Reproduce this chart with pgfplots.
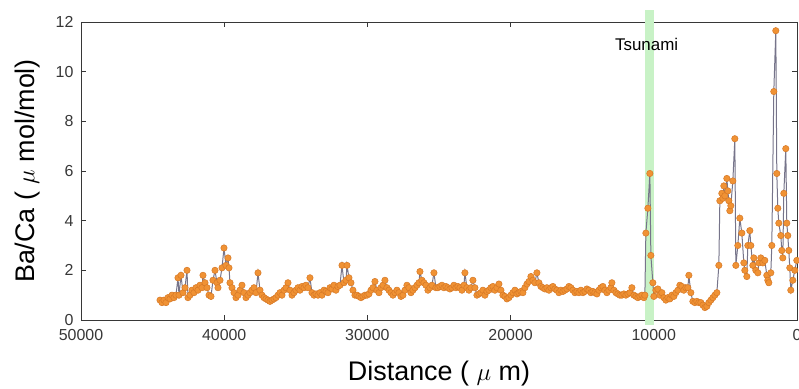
\documentclass[border=0pt]{standalone}
\usepackage{pgfplots}
\pgfplotsset{compat=1.18}
\usepackage{pgfplotstable}
\usepackage{fontspec}
\setmainfont{Liberation Sans}
\definecolor{markfill}{RGB}{240,146,52}
\definecolor{markedge}{RGB}{214,120,38}
\definecolor{linegray}{RGB}{118,116,138}
\definecolor{bandgreen}{RGB}{200,242,198}
\definecolor{axisgray}{RGB}{55,55,55}
\pgfplotstableread{
x y
44483 0.8
44344 0.7
44204 0.8
44064 0.7
43925 0.9
43785 0.85
43645 1.0
43506 0.9
43366 1.0
43226 1.7
43156 1.0
43017 1.8
42877 1.1
42737 1.3
42598 2.0
42528 0.9
42388 1.0
42249 1.2
42109 1.1
41969 1.3
41830 1.2
41690 1.4
41550 1.3
41481 1.8
41341 1.5
41201 1.3
41062 1.0
40922 0.95
40782 1.6
40643 2.0
40503 1.5
40433 1.3
40293 1.6
40154 2.1
40014 2.9
39874 2.2
39735 2.5
39665 2.1
39595 1.5
39455 1.3
39316 1.1
39176 0.9
39036 1.0
38897 1.2
38757 1.4
38617 1.1
38478 0.9
38338 1.0
38199 1.1
38059 1.2
37919 1.3
37780 1.1
37640 1.9
37500 1.2
37361 1.0
37221 0.9
37081 0.85
36942 0.8
36802 0.75
36662 0.8
36523 0.85
36383 0.9
36244 1.0
36104 1.1
35964 1.0
35825 1.2
35685 1.3
35545 1.5
35406 1.2
35266 1.0
35127 1.1
34987 1.2
34847 1.3
34708 1.2
34568 1.35
34428 1.3
34289 1.4
34149 1.3
34010 1.7
33870 1.1
33730 1.0
33591 1.05
33451 1.0
33311 1.1
33172 1.0
33032 1.2
32893 1.15
32753 1.1
32613 1.3
32474 1.25
32334 1.4
32194 1.2
32055 1.35
31915 1.4
31775 2.2
31636 1.5
31496 1.6
31426 2.2
31287 1.7
31147 1.5
31008 1.2
30868 1.0
30728 1.0
30589 0.95
30449 0.9
30309 0.95
30170 1.0
30030 1.0
29891 1.05
29751 1.2
29611 1.3
29472 1.55
29332 1.2
29192 1.1
29053 1.3
28913 1.4
28774 1.6
28634 1.3
28494 1.2
28355 1.1
28215 1.0
28075 1.1
27936 1.2
27796 1.1
27656 0.95
27517 1.0
27377 1.2
27238 1.4
27098 1.3
26958 1.1
26819 1.2
26679 1.3
26539 1.4
26400 1.5
26330 1.95
26191 1.6
26051 1.5
25911 1.4
25772 1.2
25632 1.3
25492 1.4
25353 1.9
25213 1.3
25074 1.3
24934 1.35
24794 1.4
24655 1.3
24515 1.35
24375 1.3
24236 1.25
24096 1.3
23957 1.4
23817 1.3
23677 1.35
23538 1.3
23398 1.2
23258 1.4
23189 1.9
23049 1.3
22909 1.2
22770 1.3
22630 1.6
22491 1.3
22351 1.0
22211 1.05
22072 1.1
21932 1.2
21792 1.0
21653 1.15
21513 1.2
21374 1.3
21234 1.35
21094 1.2
20955 1.3
20815 1.45
20675 1.2
20536 1.0
20396 0.95
20257 0.85
20117 0.9
19977 1.0
19838 1.1
19698 1.2
19558 1.05
19419 1.1
19279 1.15
19140 1.1
19000 1.3
18860 1.45
18721 1.55
18581 1.75
18441 1.6
18302 1.5
18162 1.9
18023 1.5
17883 1.35
17743 1.3
17604 1.25
17464 1.3
17324 1.2
17185 1.3
17045 1.35
16906 1.25
16766 1.2
16626 1.1
16487 1.2
16347 1.15
16207 1.2
16068 1.25
15928 1.35
15789 1.3
15649 1.2
15509 1.1
15370 1.15
15230 1.1
15090 1.2
14951 1.1
14811 1.15
14672 1.25
14532 1.2
14392 1.1
14253 1.15
14113 1.1
13973 1.05
13834 1.2
13694 1.3
13555 1.35
13415 1.2
13275 1.1
13136 1.2
12996 1.3
12926 1.5
12787 1.2
12647 1.1
12507 1.05
12368 1.0
12228 1.0
12089 1.05
11949 1.0
11809 1.05
11670 1.1
11530 1.3
11390 1.0
11251 0.95
11111 0.9
10972 0.95
10832 1.0
10692 0.9
10623 1.0
10553 3.5
10413 4.5
10274 5.9
10204 2.6
10065 1.5
9995 0.95
9855 1.2
9716 1.25
9576 1.0
9436 1.1
9297 0.9
9157 0.8
9017 0.9
8878 0.85
8738 1.0
8599 0.95
8459 1.1
8319 1.2
8180 1.4
8040 1.35
7900 1.2
7761 1.3
7621 1.3
7551 1.8
7412 1.1
7272 0.75
7132 0.7
6993 0.75
6853 0.7
6713 0.7
6574 0.6
6434 0.5
6295 0.55
6155 0.7
6015 0.8
5876 0.9
5736 1.0
5596 1.1
5457 2.2
5387 4.8
5248 5.1
5178 4.9
5108 5.4
5038 5.0
4899 5.7
4829 5.2
4759 4.8
4689 4.4
4620 4.6
4480 5.6
4341 7.3
4271 2.2
4131 3.0
3992 4.1
3852 3.5
3712 2.3
3643 2.0
3503 1.75
3433 3.0
3294 3.6
3224 3.0
3084 2.2
3015 2.5
2875 2.0
2735 1.9
2666 2.3
2526 2.5
2386 2.3
2247 2.4
2107 1.8
2037 1.6
1968 1.5
1828 1.9
1758 3.0
1619 9.2
1479 11.65
1409 5.9
1340 4.5
1270 3.9
1130 3.4
1061 2.8
991 2.5
921 5.1
782 6.9
712 3.9
642 3.4
573 2.8
503 2.1
433 1.2
293 1.6
154 2.0
14 2.4
}\badata
\begin{document}
\begin{tikzpicture}
\begin{axis}[
  scale only axis,
  width=716bp, height=298bp,
  x dir=reverse,
  xmin=0, xmax=50000, ymin=0, ymax=12,
  xtick={0,10000,20000,30000,40000,50000},
  ytick={0,2,4,6,8,10,12},
  scaled x ticks=false,
  /pgf/number format/set thousands separator={},
  /pgf/number format/assume math mode=true,
  tick align=inside,
  major tick length=5bp,
  axis line style={axisgray, line width=0.9bp},
  every tick/.style={axisgray, line width=0.9bp},
  ticklabel style={font=\fontsize{16}{18}\selectfont, text=axisgray},
  xticklabel style={yshift=-6bp},
  yticklabel style={xshift=-4bp},
  xlabel={Distance ( $\mu$ m)},
  ylabel={Ba/Ca ( $\mu$ mol/mol)},
  label style={font=\fontsize{27}{30}\selectfont},
  xlabel style={yshift=-13bp},
  ylabel style={yshift=9bp},
  clip=false,
]
\addplot[fill=bandgreen, draw=none] coordinates {(10000,-0.2) (10000,12.5) (10620,12.5) (10620,-0.2)} --cycle;
\addplot[color=linegray, line width=1bp, mark=*, mark size=3.2bp,
  mark options={fill=markfill, draw=markedge, line width=0.5bp}] table[x=x,y=y] {\badata};
\node[font=\fontsize{17}{19}\selectfont, text=black] at (axis cs:10500,11.1) {Tsunami};
\end{axis}
\pgfresetboundingbox
\path[use as bounding box] ([xshift=-81bp,yshift=-69bp]current axis.south west) rectangle ([xshift=2bp,yshift=22bp]current axis.north east);
\end{tikzpicture}
\end{document}
